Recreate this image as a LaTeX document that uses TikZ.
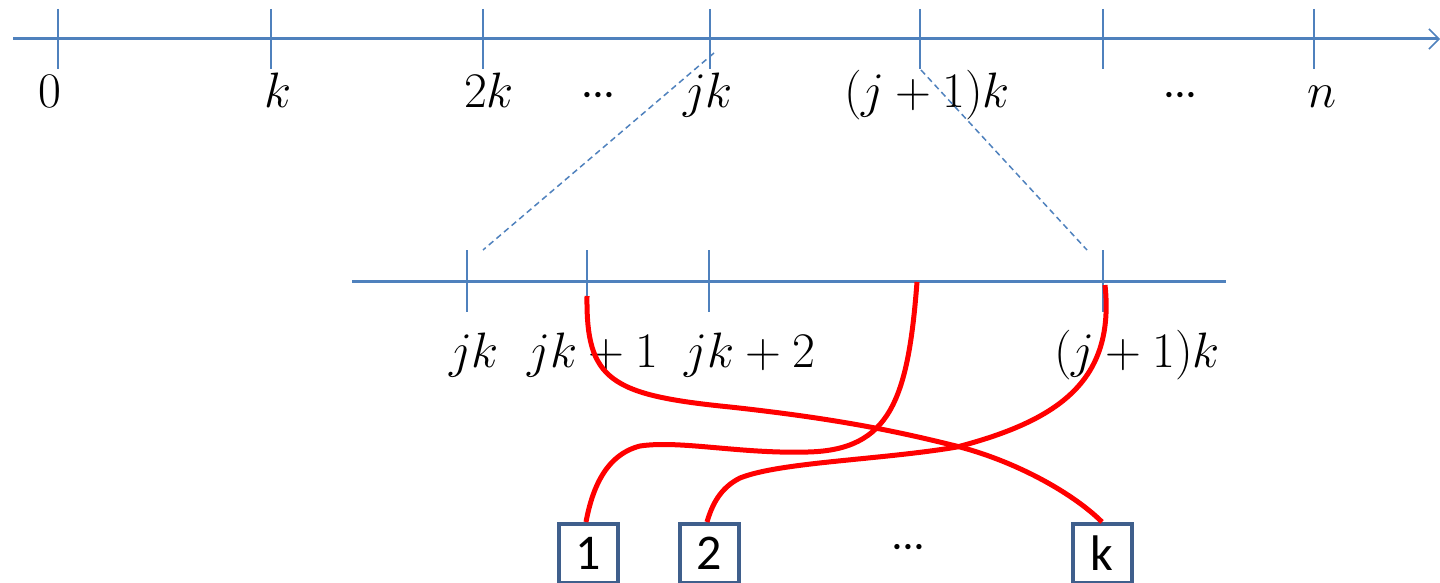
\documentclass[tikz,border=0pt]{standalone}
\usepackage{fontspec}
\newfontfamily\boxfont{Carlito}
\usetikzlibrary{arrows.meta}
\definecolor{axisblue}{HTML}{4F81BD}
\definecolor{boxblue}{HTML}{3F5F8C}
\newcommand{\tightdots}{{\cdot}\mkern-1mu{\cdot}\mkern-1mu{\cdot}}
\begin{document}
\begin{tikzpicture}[x=0.5pt,y=-0.5pt,
  axis/.style={axisblue, line width=1.5pt},
  tickline/.style={axisblue, line width=1pt},
  zoomline/.style={axisblue, line width=0.75pt, dash pattern=on 3pt off 2pt},
  link/.style={red, line width=2.5pt},
  lbl/.style={anchor=base, inner sep=0pt, font=\fontsize{25}{30}\selectfont},
  numbox/.style={draw=boxblue, line width=2pt, minimum width=29.5pt, minimum height=29.5pt, inner sep=0pt, font=\boxfont\fontsize{25}{30}\selectfont}]
\useasboundingbox (0,0) rectangle (1440,583);

% top axis
\coordinate (topL) at (13,39);
\coordinate (topR) at (1440,39);
\draw[axis, -{Straight Barb[length=5pt,width=10pt,line width=0.8pt]}] (topL) -- (topR);
\foreach \n/\x in {t0/58, t1/271, t2/483, tj/710, tj1/920, t5/1103, tn/1314}{
  \coordinate (\n a) at (\x,9);
  \coordinate (\n b) at (\x,69);
  \draw[tickline] (\n a) -- (\n b);
}
\node[lbl] (l0) at (50,108) {$0$};
\node[lbl] (lk) at (278,108) {$k$};
\node[lbl] (l2k) at (489,108) {$2k$};
\node[lbl] (ld1) at (598,108) {$\tightdots$};
\node[lbl] (ljk) at (708,108) {$jk$};
\node[lbl] (lj1k) at (927,108) {$(j+1)k$};
\node[lbl] (ld2) at (1180,108) {$\tightdots$};
\node[lbl] (ln) at (1322,108) {$n$};

% lower axis
\coordinate (lowL) at (352,281);
\coordinate (lowR) at (1226,281);
\draw[axis] (lowL) -- (lowR);
\foreach \n/\x in {s0/467, s1/587, s2/709, s3/1103}{
  \coordinate (\n a) at (\x,250);
  \coordinate (\n b) at (\x,312);
  \draw[tickline] (\n a) -- (\n b);
}
\node[lbl] (mjk) at (474,367) {$jk$};
\node[lbl] (mjk1) at (593,367) {$jk+1$};
\node[lbl] (mjk2) at (750,367) {$jk+2$};
\node[lbl] (mj1k) at (1137,367) {$(j+1)k$};

% zoom lines
\coordinate (zA) at (714,53);
\coordinate (zB) at (483,250);
\coordinate (zC) at (921,70);
\coordinate (zD) at (1087,250);
\draw[zoomline] (zA) -- (zB);
\draw[zoomline] (zC) -- (zD);

% boxes
\node[numbox] (b1) at (588,553.5) {1};
\node[numbox] (b2) at (709,553.5) {2};
\node[numbox] (bk) at (1102,553.5) {k};
\node[inner sep=0pt, font=\fontsize{25}{30}\selectfont] (bd) at (908,548) {$\tightdots$};

% red links
\coordinate (r1) at (587,296);
\coordinate (r2) at (917,282);
\coordinate (r3) at (1105,285);
\draw[link] (r1) .. controls (586,380) and (610,395) .. (730,407)
  .. controls (840,419) and (900,432) .. (960,447)
  .. controls (1020,463) and (1075,495) .. (bk.north);
\draw[link] (r2) .. controls (908,400) and (890,450) .. (808,452)
  .. controls (740,454) and (680,440) .. (640,446)
  .. controls (605,455) and (592,490) .. ([xshift=-1pt]b1.north);
\draw[link] (r3) .. controls (1115,380) and (1060,420) .. (957,447)
  .. controls (880,460) and (780,462) .. (740,478)
  .. controls (720,488) and (712,505) .. ([xshift=-1pt]b2.north);
\end{tikzpicture}
\end{document}
